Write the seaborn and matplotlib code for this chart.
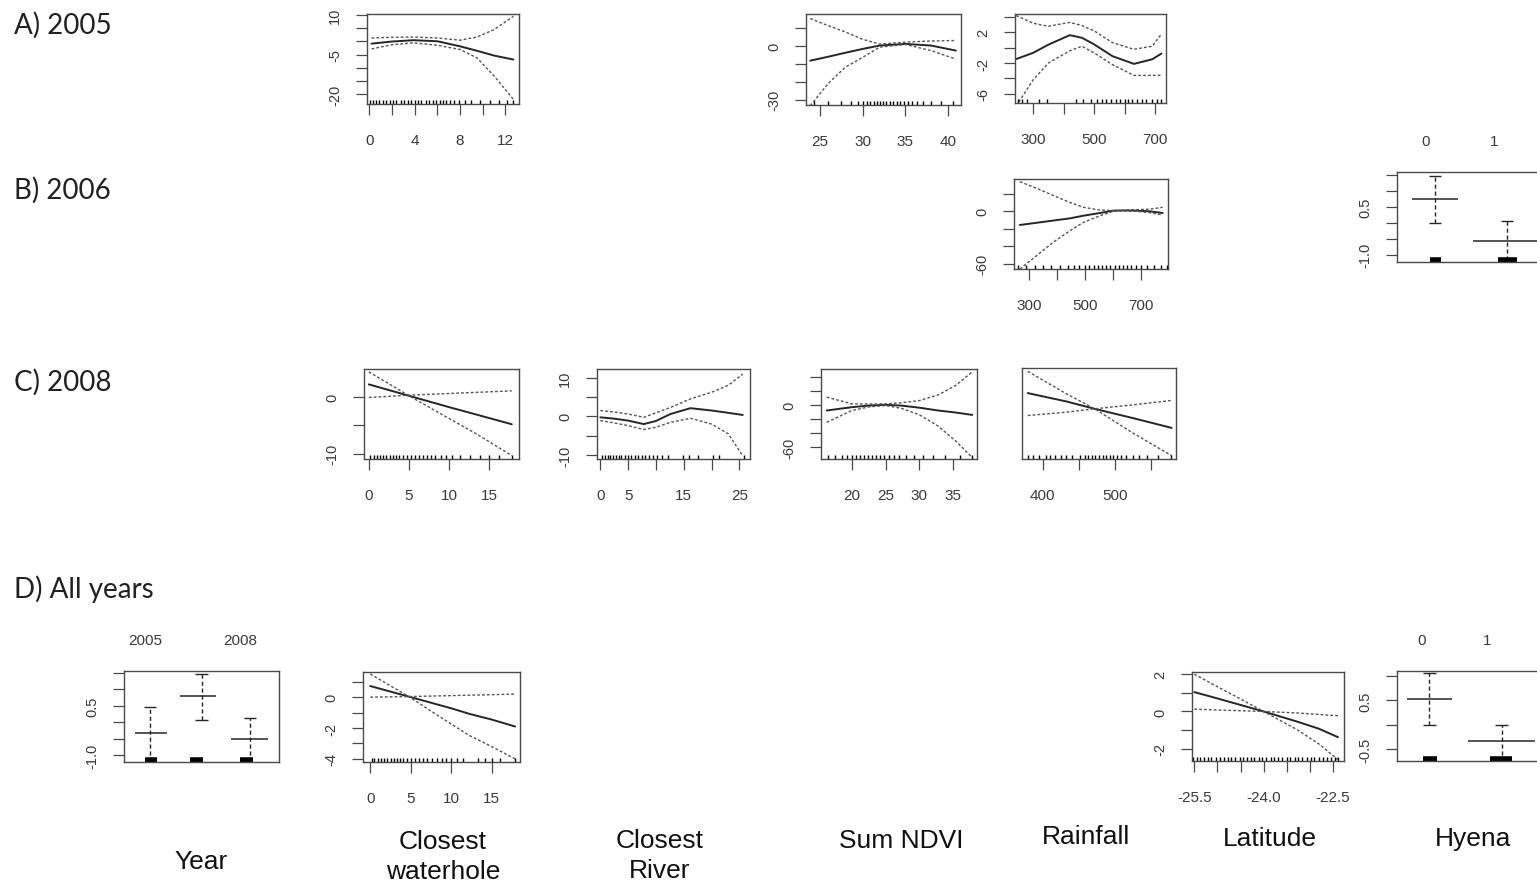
import matplotlib
matplotlib.use("Agg")
import matplotlib.pyplot as plt
from matplotlib import font_manager
import numpy as np
import seaborn as sns

W, H = 1537, 887

# ---- A) 2005 --------------------------------------------------------------
a1_x = [0.2, 2, 3.9, 6, 8, 9.5, 11, 12.7]
a1_fit = [-0.9, -0.1, 0.4, 0.0, -1.9, -3.6, -5.4, -6.9]
a1_up = [1.25, 1.5, 1.6, 1.25, 0.4, 1.6, 4.4, 9.4]
a1_lo = [-2.9, -1.3, -0.6, -1.5, -3.1, -6.3, -13.1, -21.9]
a1_rug = [0.1, 0.3, 0.6, 0.9, 1.2, 1.5, 1.8, 2.1, 2.4, 2.8, 3.1, 3.4, 3.7, 4.0,
          4.3, 4.6, 5.0, 5.3, 5.6, 5.9, 6.2, 6.5, 6.8, 7.1, 7.5, 7.9, 8.4, 9.0,
          9.8, 10.6, 11.4, 12.1, 12.7]

a2_x = [23.9, 26, 28, 30, 32, 35, 38, 40.9]
a2_fit = [-8.4, -6.2, -4.0, -1.9, 0.0, 0.9, 0.0, -2.8]
a2_up = [15, 11, 7.5, 3.5, 0.8, 1.9, 2.5, 2.8]
a2_lo = [-33.4, -21, -12, -6.6, -0.9, 0.6, -2.8, -7.5]
a2_rug = [24.3, 26.0, 27.5, 28.6, 29.5, 30.1, 30.5, 30.9, 31.3, 31.7, 32.0, 32.4,
          32.8, 33.2, 33.6, 34.0, 34.4, 34.9, 35.3, 35.8, 36.4, 37.1, 38.0, 39.2, 40.6]

a3_x = [245, 300, 350, 420, 460, 500, 560, 630, 690, 720]
a3_fit = [-1.47, -0.67, 0.4, 1.64, 1.3, 0.44, -1.1, -2.1, -1.5, -0.76]
a3_up = [4.2, 3.2, 2.8, 3.3, 2.9, 2.2, 0.67, -0.2, 0.2, 1.8]
a3_lo = [-7.6, -4.2, -2.0, -0.4, 0.2, -0.67, -2.2, -3.6, -3.6, -3.6]
a3_rug = [250, 265, 280, 320, 345, 440, 465, 490, 510, 525, 540, 555, 570, 585,
          600, 612, 625, 640, 655, 670, 690, 705, 718]

# ---- B) 2006 --------------------------------------------------------------
b1_x = [268, 330, 388, 447, 494, 553, 600, 640, 682, 730, 776]
b1_fit = [-15.6, -13, -10.5, -8, -5, -1.9, 0.8, 1.0, 0.8, 0.0, -1.9]
b1_up = [34, 26, 18, 10, 4.6, 1.5, 0.8, 1.5, 1.9, 2.5, 4.6]
b1_lo = [-66, -50, -35, -22, -12.6, -5, 0.0, 0.5, 0.0, -1.5, -4.2]
b1_rug = [262, 290, 320, 350, 380, 410, 440, 460, 480, 500, 515, 530, 545, 560,
          575, 590, 605, 620, 635, 650, 665, 680, 700, 720, 745, 770, 790]

hy06_levels = ["0", "1"]
hy06_center = [1.13, 2.19]
hy06_seg_lo = [0.79, 1.69]
hy06_seg_hi = [1.47, 2.75]
hy06_est = [0.74, -0.57]
hy06_up = [1.47, 0.06]
hy06_lo = [-0.02, -1.4]
hy06_rug_lo = [1.06, 2.06]
hy06_rug_hi = [1.22, 2.34]

# ---- C) 2008 --------------------------------------------------------------
c1_x = [0, 2.5, 5, 7.5, 10, 13.4, 17.8]
c1_fit = [2.2, 1.2, 0.2, -0.8, -1.8, -3.1, -4.8]
c1_up = [-0.1, 0.1, 0.3, 0.45, 0.6, 0.8, 1.06]
c1_lo = [4.4, 2.3, 0.2, -1.8, -3.8, -6.5, -10.3]
c1_rug = [0.2, 0.6, 1.0, 1.4, 1.8, 2.2, 2.6, 3.0, 3.4, 3.8, 4.2, 4.7, 5.2, 5.7,
          6.2, 6.7, 7.2, 7.7, 8.3, 9.0, 9.6, 10.4, 11.3, 12.6, 13.8, 15.0, 16.2, 17.8]

c2_x = [0, 2.5, 5, 7.8, 10, 12.6, 16.2, 20, 23, 25.6]
c2_fit = [-0.26, -0.6, -1.1, -2.0, -1.2, 0.6, 2.1, 1.5, 0.9, 0.35]
c2_up = [1.5, 1.1, 0.6, -0.26, 0.9, 2.3, 4.5, 6.2, 8.0, 10.9]
c2_lo = [-1.1, -1.7, -2.4, -3.4, -2.8, -1.55, -0.5, -2.0, -4.5, -10.2]
c2_rug = [0.3, 0.8, 1.3, 1.8, 2.3, 2.8, 3.3, 3.8, 4.4, 5.0, 5.6, 6.2, 6.8, 7.4,
          8.0, 8.7, 9.4, 10.2, 11.0, 12.2, 14.8, 16.0, 17.5, 20.2, 21.4, 25.8]

c3_x = [16.25, 20, 22.5, 25, 27.3, 30, 32.8, 35.5, 37.9]
c3_fit = [-8, -3.3, -1, 0, -1, -4, -8, -11, -14.3]
c3_up = [11, 1.4, 1.2, 1.4, 2.9, 6, 14, 28, 47]
c3_lo = [-24.8, -8, -3, -1, -4.8, -14, -30, -52, -75]
c3_rug = [16.4, 17.5, 18.5, 19.3, 20.0, 20.6, 21.2, 21.8, 22.4, 23.0, 23.6, 24.2,
          24.8, 25.5, 26.2, 27.0, 28.0, 29.2, 30.5, 32.0, 33.8, 36.0, 37.8]

c4_x = [379, 432.6, 472, 525.6, 579]
c4_fit = [4.7, 2.2, 0.0, -2.8, -5.7]
c4_up = [11.2, 4.5, 0.0, -7.3, -14]
c4_lo = [-2.0, -1.0, 0.0, 1.2, 2.5]
c4_rug = [379, 386, 395, 404, 410, 417, 425, 432, 441, 452, 458, 463, 468, 473,
          478, 483, 488, 493, 498, 503, 508, 515, 525, 533, 545, 560, 578]

# ---- D) All years ---------------------------------------------------------
yr_levels = ["2005", "", "2008"]
yr_center = [1.105, 2.19, 3.21]
yr_seg_lo = [0.79, 1.74, 2.82]
yr_seg_hi = [1.47, 2.49, 3.59]
yr_est = [-0.32, 0.78, -0.5]
yr_up = [0.46, 1.47, 0.14]
yr_lo = [-1.4, 0.06, -1.4]
yr_rug_lo = [1.0, 1.95, 3.0]
yr_rug_hi = [1.25, 2.22, 3.27]

d2_x = [0, 2.5, 5, 7.5, 10, 12.3, 15, 17.9]
d2_fit = [0.72, 0.36, 0.0, -0.36, -0.72, -1.09, -1.45, -1.9]
d2_up = [0.0, 0.02, 0.04, 0.07, 0.1, 0.13, 0.16, 0.2]
d2_lo = [1.5, 0.73, -0.04, -0.9, -1.74, -2.5, -3.2, -4.0]
d2_rug = [0.2, 0.5, 0.9, 1.3, 1.7, 2.1, 2.5, 2.9, 3.3, 3.7, 4.1, 4.5, 5.0, 5.5,
          6.0, 6.5, 7.0, 7.6, 8.2, 8.8, 9.4, 10.0, 10.7, 11.5, 13.3, 14.2, 15.0,
          16.0, 17.9]

d6_x = [-25.5, -25.0, -24.5, -24.0, -23.28, -22.8, -22.39]
d6_fit = [1.04, 0.7, 0.35, 0.0, -0.54, -0.93, -1.38]
d6_up = [0.125, 0.08, 0.04, 0.0, -0.08, -0.16, -0.23]
d6_lo = [2.0, 1.33, 0.67, 0.0, -0.97, -1.75, -2.59]
d6_rug = [-25.52, -25.44, -25.37, -25.28, -25.2, -25.13, -25.02, -24.95, -24.86,
          -24.78, -24.7, -24.61, -24.52, -24.45, -24.36, -24.27, -24.2, -24.1,
          -24.03, -23.94, -23.85, -23.77, -23.68, -23.6, -23.5, -23.42, -23.33,
          -23.25, -23.16, -23.07, -22.98, -22.9, -22.81, -22.72, -22.63, -22.55,
          -22.46, -22.4]

hy_levels = ["0", "1"]
hy_center = [1.11, 2.23]
hy_seg_lo = [0.77, 1.71]
hy_seg_hi = [1.46, 2.74]
hy_est = [0.52, -0.34]
hy_up = [1.05, 0.0]
hy_lo = [0.0, -0.9]
hy_rug_lo = [1.02, 2.05]
hy_rug_hi = [1.23, 2.39]

row_labels = ["A) 2005", "B) 2006", "C) 2008", "D) All years"]
col_titles = ["Year", "Closest\nwaterhole", "Closest\nRiver", "Sum NDVI",
              "Rainfall", "Latitude", "Hyena"]

sns.set_style("ticks")
plt.rcParams["font.family"] = ["Liberation Sans", "DejaVu Sans"]

names = {f.name for f in font_manager.fontManager.ttflist}
narrow = "Liberation Sans Narrow" in names
title_family = ["Liberation Sans Narrow", "Liberation Sans"] if narrow else ["Liberation Sans"]
title_size = 22 if narrow else 19

FIT_C = "#262626"
SE_C = "#555555"
AX_C = "#4a4a4a"
TXT_C = "#3a3a3a"

fig = plt.figure(figsize=(W / 100, H / 100), dpi=100)


def place(box):
    x0, y0, x1, y1 = box
    ax = fig.add_axes([x0 / W, 1 - y1 / H, (x1 - x0) / W, (y1 - y0) / H])
    for s in ax.spines.values():
        s.set_visible(True)
        s.set_color(AX_C)
        s.set_linewidth(1.0)
    ax.tick_params(axis="both", direction="out", length=8, width=0.9,
                   color=AX_C, labelcolor=TXT_C)
    ax.tick_params(axis="x", pad=13, labelsize=11)
    ax.tick_params(axis="y", pad=10, labelsize=10.5)
    return ax


def set_yaxis(ax, yticks, ylabels):
    if yticks is None:
        ax.tick_params(axis="y", left=False, labelleft=False)
        return
    ax.set_yticks(yticks)
    ax.set_yticklabels(ylabels, rotation=90, va="center")


def smooth_panel(box, x, fit, up, lo, rug, xlim, ylim, xticks, xlabels,
                 yticks=None, ylabels=None):
    ax = place(box)
    sns.lineplot(x=x, y=fit, ax=ax, color=FIT_C, lw=1.4, estimator=None)
    for band in (up, lo):
        sns.lineplot(x=x, y=band, ax=ax, color=SE_C, lw=1.0, estimator=None,
                     linestyle=(0, (2.0, 1.5)))
    sns.rugplot(x=rug, ax=ax, height=0.045, color="black", lw=1.3)
    ax.set_xlim(xlim)
    ax.set_ylim(ylim)
    ax.set_xticks(xticks)
    ax.set_xticklabels(xlabels)
    set_yaxis(ax, yticks, ylabels)
    ax.set_xlabel("")
    ax.set_ylabel("")
    return ax


def factor_panel(box, levels, center, seg_lo, seg_hi, est, up, lo, rug_lo,
                 rug_hi, xlim, ylim, yticks, ylabels, cap):
    ax = place(box)
    center = np.asarray(center)
    ax.hlines(est, seg_lo, seg_hi, color=FIT_C, lw=1.1)
    ax.vlines(center, lo, up, color=FIT_C, lw=1.0, linestyles=(0, (3, 2)))
    ax.hlines(up, center - cap, center + cap, color=FIT_C, lw=1.0)
    ax.hlines(lo, center - cap, center + cap, color=FIT_C, lw=1.0)
    ax.hlines([0.02] * len(rug_lo), rug_lo, rug_hi, color="black", lw=4,
              transform=ax.get_xaxis_transform())
    ax.set_xlim(xlim)
    ax.set_ylim(ylim)
    ax.set_xticks(range(1, len(levels) + 1))
    ax.set_xticklabels(levels)
    ax.tick_params(axis="x", bottom=False, labelbottom=False, top=False,
                   labeltop=True, length=0, pad=17)
    set_yaxis(ax, yticks, ylabels)
    return ax


# row A
smooth_panel((367, 15, 519, 105), a1_x, a1_fit, a1_up, a1_lo, a1_rug,
             (-0.2, 13.2), (-23.7, 10.3), [0, 2, 4, 6, 8, 10, 12],
             ["0", "", "4", "", "8", "", "12"],
             [-20, -15, -10, -5, 0, 5, 10], ["-20", "", "", "-5", "", "", "10"])
smooth_panel((806, 15, 961, 106), a2_x, a2_fit, a2_up, a2_lo, a2_rug,
             (23.4, 41.5), (-33, 17.5), [25, 30, 35, 40], ["25", "30", "35", "40"],
             [-30, -20, -10, 0, 10], ["-30", "", "", "0", ""])
smooth_panel((1015, 15, 1166, 104), a3_x, a3_fit, a3_up, a3_lo, a3_rug,
             (241, 735), (-7.2, 4.4), [300, 400, 500, 600, 700],
             ["300", "", "500", "", "700"],
             [-6, -4, -2, 0, 2, 4], ["-6", "", "-2", "", "2", ""])

# row B
smooth_panel((1014, 180, 1168, 270), b1_x, b1_fit, b1_up, b1_lo, b1_rug,
             (247, 795), (-66, 37), [300, 400, 500, 600, 700],
             ["300", "", "500", "", "700"],
             [-60, -40, -20, 0, 20], ["-60", "", "", "0", ""])
factor_panel((1397, 173, 1560, 263), hy06_levels, hy06_center, hy06_seg_lo,
             hy06_seg_hi, hy06_est, hy06_up, hy06_lo, hy06_rug_lo, hy06_rug_hi,
             (0.574, 2.97), (-1.23, 1.59), [-1.0, -0.5, 0.0, 0.5, 1.0, 1.5],
             ["-1.0", "", "", "0.5", "", ""], 0.09)

# row C
smooth_panel((364, 370, 519, 460), c1_x, c1_fit, c1_up, c1_lo, c1_rug,
             (-0.6, 18.7), (-10.9, 4.9), [0, 5, 10, 15], ["0", "5", "10", "15"],
             [-10, -5, 0], ["-10", "", "0"])
smooth_panel((597, 370, 750, 460), c2_x, c2_fit, c2_up, c2_lo, c2_rug,
             (-0.6, 26.9), (-11, 12.2), [0, 5, 10, 15, 20, 25],
             ["0", "5", "", "15", "", "25"],
             [-10, -5, 0, 5, 10], ["-10", "", "0", "", "10"])
smooth_panel((821, 370, 977, 460), c3_x, c3_fit, c3_up, c3_lo, c3_rug,
             (15.4, 38.6), (-77, 51), [20, 25, 30, 35], ["20", "25", "30", "35"],
             [-60, -40, -20, 0, 20, 40], ["-60", "", "", "0", "", ""])
smooth_panel((1022, 369, 1176, 460), c4_x, c4_fit, c4_up, c4_lo, c4_rug,
             (371, 585), (-15, 12.2), [400, 450, 500, 550], ["400", "", "500", ""])

# row D
factor_panel((124, 672, 279, 763), yr_levels, yr_center, yr_seg_lo, yr_seg_hi,
             yr_est, yr_up, yr_lo, yr_rug_lo, yr_rug_hi, (0.56, 3.82),
             (-1.2, 1.55), [-1.0, -0.5, 0.0, 0.5, 1.0, 1.5],
             ["-1.0", "", "", "0.5", "", ""], 0.13)
smooth_panel((363, 673, 520, 763), d2_x, d2_fit, d2_up, d2_lo, d2_rug,
             (-0.9, 18.5), (-4.2, 1.63), [0, 5, 10, 15], ["0", "5", "10", "15"],
             [-4, -3, -2, -1, 0, 1], ["-4", "", "-2", "", "0", ""])
smooth_panel((1192, 673, 1344, 762), d6_x, d6_fit, d6_up, d6_lo, d6_rug,
             (-25.55, -22.26), (-2.66, 2.12),
             [-25.5, -25.0, -24.5, -24.0, -23.5, -23.0, -22.5],
             ["-25.5", "", "", "-24.0", "", "", "-22.5"],
             [-2, -1, 0, 1, 2], ["-2", "", "0", "", "2"])
factor_panel((1397, 672, 1560, 762), hy_levels, hy_center, hy_seg_lo, hy_seg_hi,
             hy_est, hy_up, hy_lo, hy_rug_lo, hy_rug_hi, (0.615, 3.13),
             (-0.74, 1.1), [-0.5, 0.0, 0.5, 1.0], ["-0.5", "", "0.5", ""], 0.1)

# row labels (left)
for label, y in zip(row_labels, [25, 190, 382, 589]):
    fig.text(14 / W, 1 - y / H, label, family=["Lato", "DejaVu Sans"],
             fontsize=20, color="#222222", ha="left", va="center")

# column titles (bottom)
for title, x, y in zip(col_titles, [201, 443, 660, 901, 1086, 1270, 1473],
                       [862, 857, 856, 841, 837, 839, 839]):
    fig.text(x / W, 1 - y / H, title, family=title_family, fontsize=title_size,
             color="#111111", ha="center", va="center", linespacing=1.3)

fig.savefig("out.png", dpi=100)
